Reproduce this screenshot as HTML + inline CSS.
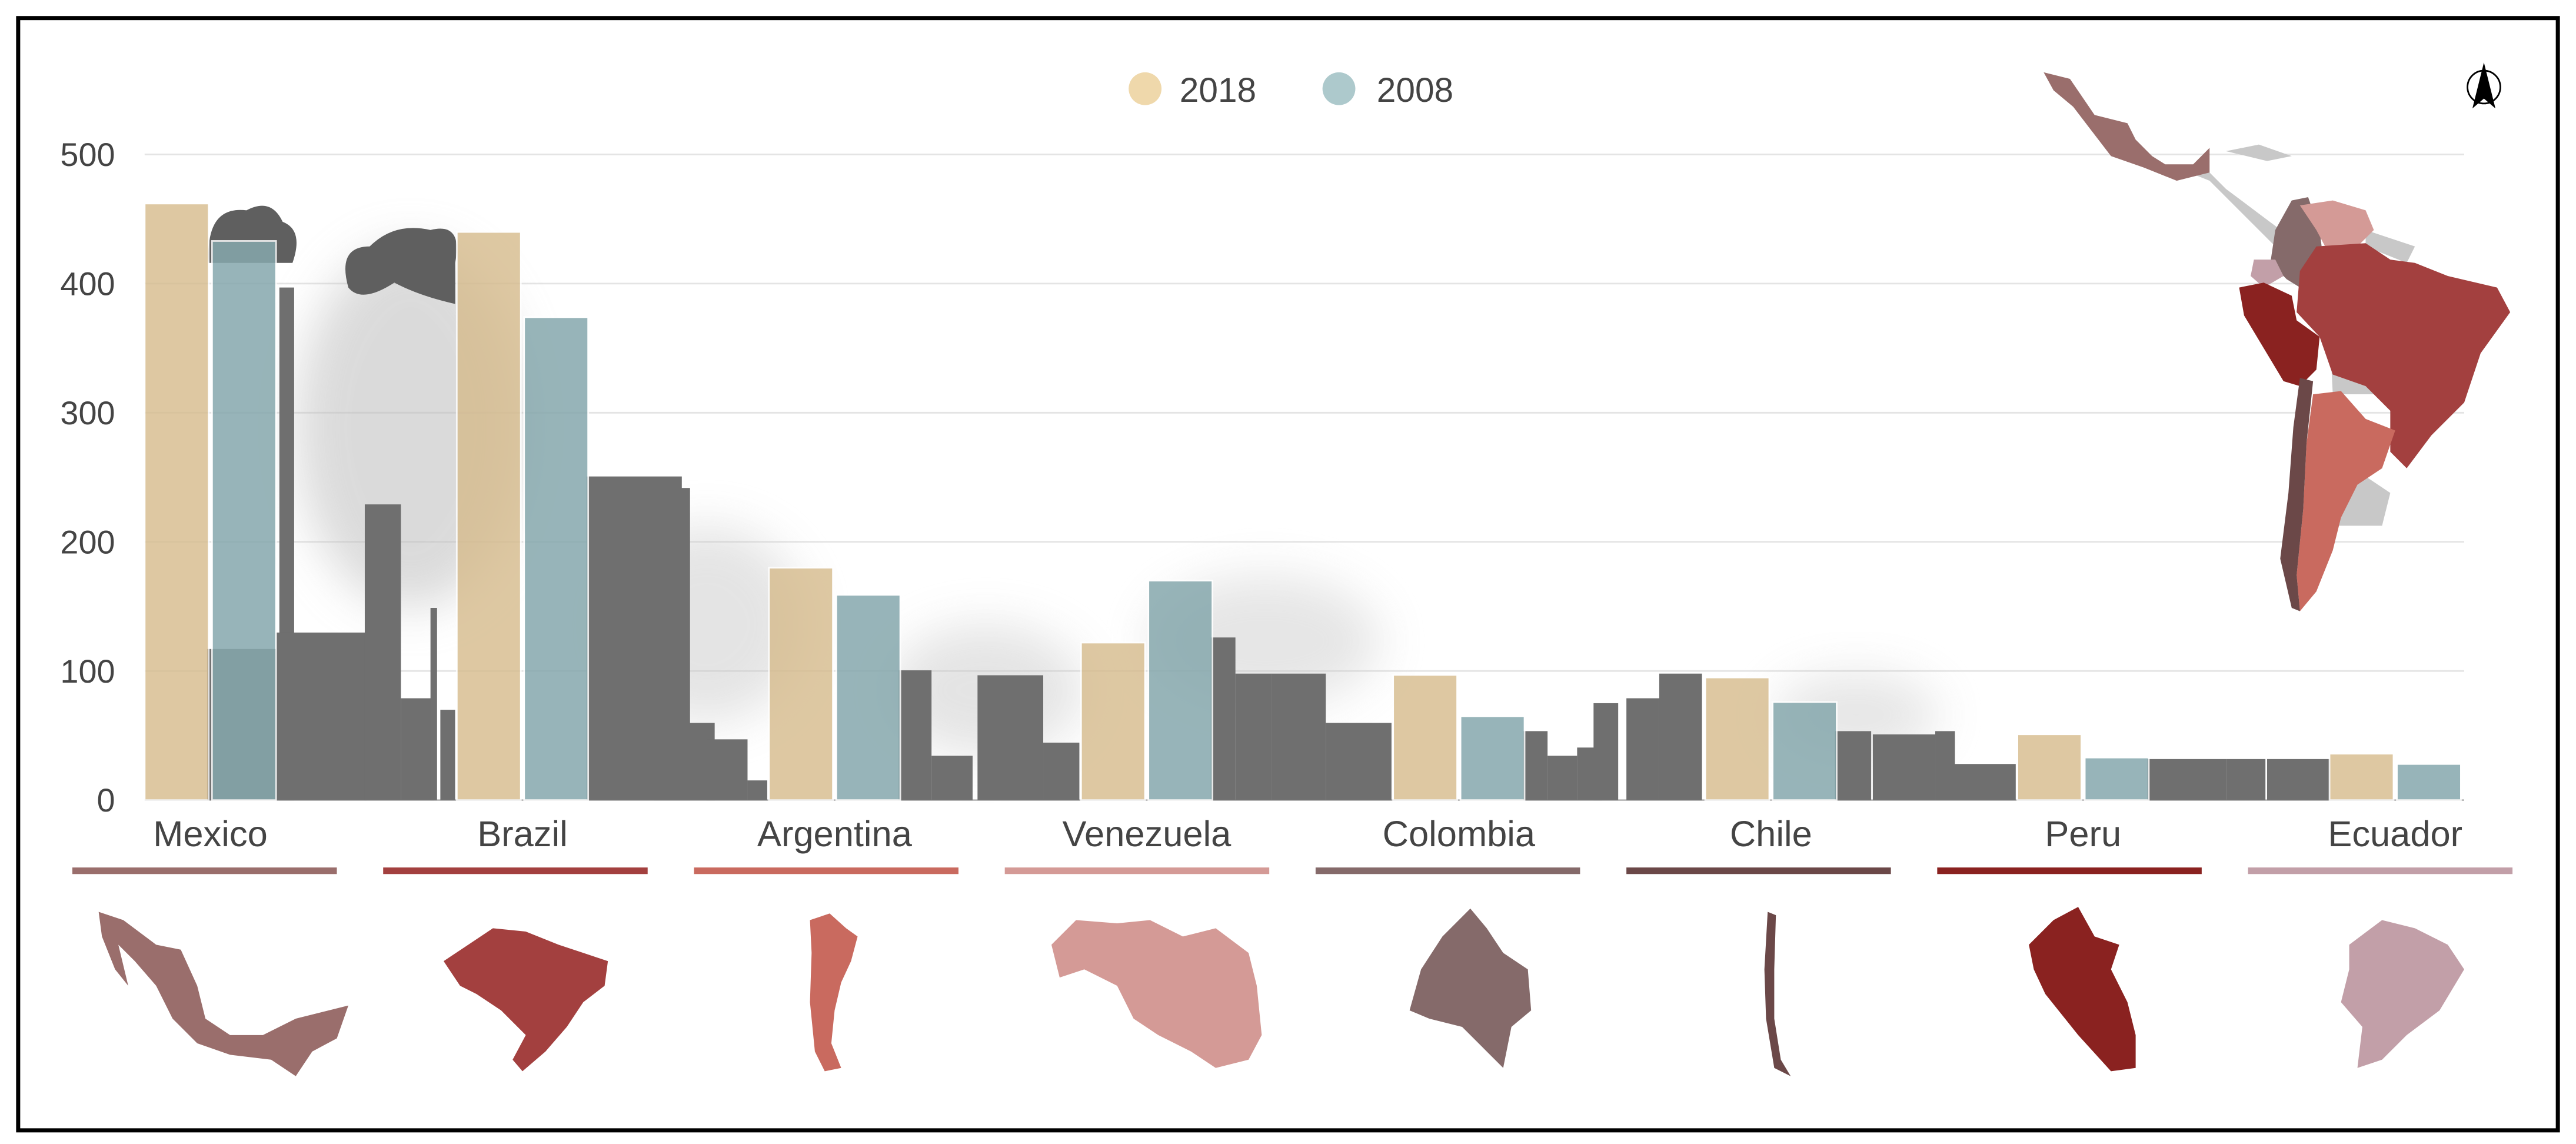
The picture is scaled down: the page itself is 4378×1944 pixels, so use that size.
<!DOCTYPE html>
<html><head><meta charset="utf-8"><style>
html,body{margin:0;padding:0;background:#fff;}
svg{display:block;}
text{font-family:"Liberation Sans",sans-serif;}
</style></head><body>
<svg id="chart" width="4378" height="1944" viewBox="0 0 1568 696.3" xmlns="http://www.w3.org/2000/svg">
<defs>
<filter id="blur" x="-50%" y="-50%" width="200%" height="200%"><feGaussianBlur stdDeviation="14"/></filter>
</defs>
<rect x="11" y="11" width="1546" height="677" fill="#fff" stroke="#000" stroke-width="2.5"/>
<g id="grid"></g>
<g id="yticks"></g>
<g id="smoke">
<ellipse cx="250" cy="260" rx="70" ry="110" fill="#bdbdbd" opacity="0.55" filter="url(#blur)"/>
<ellipse cx="430" cy="380" rx="60" ry="60" fill="#c4c4c4" opacity="0.45" filter="url(#blur)"/>
<ellipse cx="600" cy="420" rx="60" ry="40" fill="#c4c4c4" opacity="0.45" filter="url(#blur)"/>
<ellipse cx="770" cy="390" rx="70" ry="40" fill="#c8c8c8" opacity="0.45" filter="url(#blur)"/>
<ellipse cx="1130" cy="435" rx="50" ry="25" fill="#c8c8c8" opacity="0.45" filter="url(#blur)"/>
<path d="M127 160 Q125 125 150 128 Q165 120 172 135 Q185 140 178 160 Z" fill="#5f5f5f"/>
<path d="M212 175 Q205 150 225 150 Q240 135 262 140 Q282 135 277 160 L277 185 Q255 180 240 172 Q220 185 212 175 Z" fill="#5f5f5f"/>
</g>
<g id="skyline" fill="#6f6f6f">
<rect x="126" y="395" width="42" height="92"/>
<rect x="170" y="175" width="9" height="312"/>
<rect x="168" y="385" width="55" height="102"/>
<rect x="222" y="307" width="22" height="180"/>
<rect x="244" y="425" width="20" height="62"/>
<rect x="262" y="370" width="4" height="117"/>
<rect x="268" y="432" width="9" height="55"/>
<rect x="357" y="290" width="58" height="197"/>
<rect x="398" y="297" width="22" height="190"/>
<rect x="415" y="440" width="20" height="47"/>
<rect x="430" y="450" width="25" height="37"/>
<rect x="455" y="475" width="12" height="12"/>
<rect x="547" y="408" width="20" height="79"/>
<rect x="567" y="460" width="25" height="27"/>
<rect x="595" y="411" width="40" height="76"/>
<rect x="635" y="452" width="22" height="35"/>
<rect x="737" y="388" width="15" height="99"/>
<rect x="752" y="410" width="22" height="77"/>
<rect x="774" y="410" width="33" height="77"/>
<rect x="807" y="440" width="40" height="47"/>
<rect x="927" y="445" width="15" height="42"/>
<rect x="942" y="460" width="18" height="27"/>
<rect x="960" y="455" width="15" height="32"/>
<rect x="970" y="428" width="15" height="59"/>
<rect x="990" y="425" width="20" height="62"/>
<rect x="1010" y="410" width="26" height="77"/>
<rect x="1117" y="445" width="22" height="42"/>
<rect x="1140" y="447" width="38" height="40"/>
<rect x="1178" y="445" width="12" height="42"/>
<rect x="1190" y="465" width="37" height="22"/>
<rect x="1307" y="462" width="48" height="25"/>
<rect x="1355" y="462" width="24" height="25"/>
<rect x="1380" y="462" width="38" height="25"/>
</g>
<g id="bars"></g>
<g id="labels"></g>
<g>
<g><circle cx="697" cy="54" r="10" fill="#efd8ab"/><text x="718" y="62" font-size="21" fill="#444">2018</text></g>
<g><circle cx="815" cy="54" r="10" fill="#adc9cc"/><text x="838" y="62" font-size="21" fill="#444">2008</text></g>
</g>
<g><circle cx="1512" cy="53" r="10" fill="none" stroke="#000" stroke-width="1"/><path d="M1512 38 L1519 66 L1512 60 L1505 66 Z" fill="#000"/></g>
<g>
<path d="M1320 100 L1345 105 L1355 115 L1375 130 L1395 145 L1385 150 L1360 125 L1345 110 Z M1355 92 L1375 88 L1395 95 L1380 98 Z M1440 140 L1470 150 L1465 160 L1440 150 Z M1410 300 L1440 290 L1455 300 L1450 320 L1420 320 Z M1418 200 L1440 195 L1445 240 L1420 240 Z" fill="#c8c8c8"/>
<path d="M1244 44 L1260 48 L1275 70 L1295 75 L1300 85 L1310 95 L1318 100 L1335 100 L1345 90 L1345 105 L1325 110 L1305 102 L1285 95 L1275 82 L1262 65 L1250 55 Z" fill="#9a6e6c"/>
<path d="M1395 122 L1405 120 L1412 140 L1415 165 L1405 178 L1392 170 L1382 160 L1385 140 Z" fill="#856a6a"/>
<path d="M1400 125 L1420 122 L1440 128 L1445 140 L1435 150 L1418 155 L1410 140 Z" fill="#d49a96"/>
<path d="M1372 158 L1385 158 L1390 168 L1378 175 L1370 168 Z" fill="#c29fa8"/>
<path d="M1363 175 L1378 172 L1395 180 L1398 195 L1412 205 L1410 225 L1400 235 L1390 232 L1378 212 L1366 192 Z" fill="#8a2220"/>
<path d="M1410 150 L1440 148 L1455 158 L1470 160 L1490 168 L1520 175 L1528 190 L1510 215 L1500 245 L1480 265 L1465 285 L1455 275 L1455 250 L1440 235 L1420 228 L1412 205 L1398 190 L1400 165 Z" fill="#a3403f"/>
<path d="M1408 240 L1425 238 L1440 255 L1458 262 L1450 285 L1435 295 L1425 315 L1420 335 L1410 360 L1400 372 L1398 350 L1402 310 L1404 270 Z" fill="#c96a5f"/>
<path d="M1400 230 L1408 232 L1404 270 L1402 310 L1398 350 L1400 372 L1395 370 L1388 340 L1393 300 L1396 260 Z" fill="#6b4848"/>
</g>
<g id="minimaps">
<path d="M60 555 L75 560 L95 575 L110 578 L120 600 L125 620 L140 630 L160 630 L180 620 L200 615 L212 612 L205 632 L190 640 L180 655 L165 645 L140 642 L120 635 L105 620 L95 600 L82 585 L72 575 L78 600 L70 590 L62 570 Z" fill="#9a6e6c"/>
<path d="M270 585 L285 575 L300 565 L320 567 L340 575 L355 580 L370 585 L368 600 L355 610 L345 625 L332 640 L318 652 L312 645 L320 630 L305 615 L290 605 L280 600 Z" fill="#a3403f"/>
<path d="M493 560 L505 556 L515 565 L522 570 L518 585 L512 598 L508 615 L506 635 L512 650 L502 652 L496 640 L493 610 L494 580 Z" fill="#c96a5f"/>
<path d="M640 575 L655 560 L680 562 L700 560 L720 570 L740 565 L760 580 L765 600 L768 630 L760 645 L740 650 L725 640 L705 630 L690 620 L680 600 L660 590 L645 595 Z" fill="#d49a96"/>
<path d="M865 590 L878 570 L895 553 L905 565 L915 580 L930 590 L932 615 L920 625 L915 650 L905 640 L890 625 L870 620 L858 615 Z" fill="#856a6a"/>
<path d="M1076 555 L1081 557 L1080 590 L1080 620 L1084 645 L1090 655 L1080 650 L1075 620 L1074 590 Z" fill="#6b4848"/>
<path d="M1235 575 L1250 560 L1265 552 L1275 570 L1290 575 L1285 590 L1295 610 L1300 630 L1300 650 L1285 652 L1265 630 L1245 605 L1238 590 Z" fill="#8a2220"/>
<path d="M1430 575 L1450 560 L1470 565 L1490 575 L1500 590 L1485 615 L1465 630 L1450 645 L1435 650 L1438 625 L1425 610 L1430 590 Z" fill="#c29fa8"/>
</g>
<script>
const categories = ["Mexico","Brazil","Argentina","Venezuela","Colombia","Chile","Peru","Ecuador"];
const values2018 = [462, 440, 180, 122, 97, 95, 51, 36];
const values2008 = [433, 374, 159, 170, 65, 76, 33, 28];
const yTicks = [0, 100, 200, 300, 400, 500];
const underlineColors = ["#9a6e6c","#a3403f","#c96a5f","#d49a96","#856a6a","#6b4848","#8a2220","#c29fa8"];
const NS = "http://www.w3.org/2000/svg";
function yScale(v){ return 487 - v * 0.786; }
function xBand(i){ return 88 + i * 190; }
const BW = 39;
function mk(tag, attrs){ const e = document.createElementNS(NS, tag); for (const k in attrs) e.setAttribute(k, attrs[k]); return e; }
const grid = document.getElementById('grid'), yt = document.getElementById('yticks');
yTicks.forEach(t => {
  const l = mk('line', {x1: 88, x2: 1500, y1: yScale(t), y2: yScale(t), stroke: t === 0 ? '#bbb' : '#e4e4e4', 'stroke-width': 1});
  
  
  grid.appendChild(l);
  const tx = mk('text', {x: 70, y: yScale(t) + 7, 'text-anchor': 'end', 'font-size': 20, fill: '#444'});
  tx.textContent = t;
  
  
  yt.appendChild(tx);
});
const bars = document.getElementById('bars'), labels = document.getElementById('labels');
categories.forEach((c, i) => {
  const x = xBand(i);
  const b1 = mk('rect', {x: x, y: yScale(values2018[i]), width: BW, height: yScale(0) - yScale(values2018[i]), fill: '#d6bb8c', opacity: 0.8, stroke: '#fff', 'stroke-width': 1});
  
  
  bars.appendChild(b1);
  const b2 = mk('rect', {x: x + BW + 2, y: yScale(values2008[i]), width: BW, height: yScale(0) - yScale(values2008[i]), fill: '#86a8ad', opacity: 0.85, stroke: '#fff', 'stroke-width': 1});
  
  
  bars.appendChild(b2);
  const cx = x + BW + 1;
  const t = mk('text', {x: cx, y: 515, 'text-anchor': 'middle', 'font-size': 22, fill: '#444'});
  t.textContent = c;
  
  
  labels.appendChild(t);
  const u = mk('rect', {x: 44 + i * 189.2, y: 528, width: 161, height: 4, fill: underlineColors[i]});
  
  
  labels.appendChild(u);
});
</script>
</svg>
</body></html>
